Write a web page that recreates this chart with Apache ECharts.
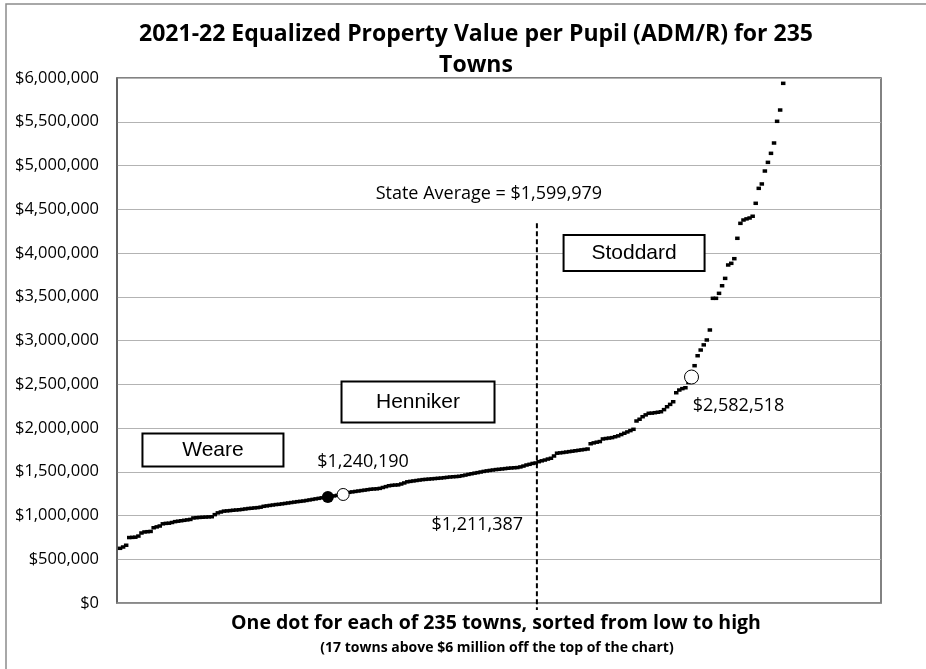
<!DOCTYPE html>
<html>
<head>
<meta charset="utf-8">
<script src="https://cdn.jsdelivr.net/npm/echarts@6/dist/echarts.min.js"></script>
<style>
  html, body { margin: 0; padding: 0; background: #fff; }
  #chart { width: 926px; height: 669px; }
</style>
</head>
<body>
<div id="chart"></div>
<script>
// values per pupil, in millions of dollars, towns sorted low -> high (218 shown, 17 off the top)
var valueMillions = [
  0.625, 0.64, 0.66, 0.748, 0.75, 0.752, 0.765, 0.80, 0.812, 0.815,
  0.818, 0.86, 0.87, 0.88, 0.905, 0.91, 0.912, 0.92, 0.93, 0.935,
  0.94, 0.945, 0.95, 0.955, 0.972, 0.975, 0.978, 0.98, 0.982, 0.984,
  0.986, 1.01, 1.03, 1.04, 1.05, 1.053, 1.056, 1.06, 1.063, 1.066,
  1.07, 1.075, 1.08, 1.083, 1.087, 1.09, 1.095, 1.105, 1.11, 1.115,
  1.12, 1.125, 1.128, 1.133, 1.138, 1.143, 1.148, 1.153, 1.158, 1.162,
  1.166, 1.172, 1.178, 1.184, 1.19, 1.196, 1.202, 1.207, 1.211387, 1.218,
  1.224, 1.23, 1.236, 1.24019, 1.25, 1.265, 1.27, 1.275, 1.28, 1.285,
  1.29, 1.295, 1.30, 1.303, 1.305, 1.31, 1.32, 1.33, 1.34, 1.345,
  1.348, 1.35, 1.36, 1.372, 1.385, 1.39, 1.395, 1.40, 1.405, 1.41,
  1.413, 1.416, 1.419, 1.422, 1.425, 1.428, 1.432, 1.436, 1.44, 1.443,
  1.445, 1.448, 1.455, 1.462, 1.47, 1.477, 1.484, 1.49, 1.497, 1.504,
  1.51, 1.515, 1.52, 1.525, 1.528, 1.532, 1.536, 1.54, 1.543, 1.546,
  1.548, 1.555, 1.565, 1.577, 1.585, 1.595, 1.60, 1.615, 1.625, 1.634,
  1.645, 1.654, 1.68, 1.712, 1.716, 1.72, 1.725, 1.73, 1.735, 1.74,
  1.745, 1.75, 1.755, 1.76, 1.82, 1.83, 1.838, 1.845, 1.875, 1.88,
  1.885, 1.89, 1.90, 1.91, 1.925, 1.94, 1.955, 1.97, 1.985, 2.08,
  2.10, 2.129, 2.15, 2.168, 2.17, 2.175, 2.18, 2.186, 2.21, 2.243,
  2.27, 2.30, 2.403, 2.434, 2.45, 2.46, 2.52, 2.582518, 2.712, 2.826,
  2.891, 2.95, 3.006, 3.12, 3.482, 3.482, 3.539, 3.626, 3.71, 3.863,
  3.882, 3.935, 4.168, 4.339, 4.377, 4.39, 4.40, 4.42, 4.568, 4.739,
  4.789, 4.937, 5.036, 5.139, 5.257, 5.505, 5.634, 5.939
];

// highlighted towns: [rank, value]
var weare = [69, 1211387];
var henniker = [74, 1240190];
var stoddard = [188, 2582518];

var stateAverage = 1599979;
var stateAverageRank = 137.4;

// text annotations placed in data coordinates: [rank, value, text]
var plainNotes = [
  [121.7, 4674000, 'State Average = $1,599,979'],
  [80.5, 1615000, '$1,240,190'],
  [117.9, 891000, '$1,211,387'],
  [203.4, 2249000, '$2,582,518']
];
// boxed town names: [rank, value, text, box width, box height]
var boxNotes = [
  [31.4, 1749000, 'Weare', 143, 35],
  [98.5, 2297000, 'Henniker', 155, 43],
  [169.2, 4000000, 'Stoddard', 143, 38]
];

var yTicks = { min: 0, max: 6000000, step: 500000 };

var towns = valueMillions.map(function (v, i) {
  return [i + 1, v * 1e6];
});

function money(v) {
  return '$' + Math.round(v).toString().replace(/\B(?=(\d{3})+(?!\d))/g, ',');
}

var chart = echarts.init(document.getElementById('chart'));

var option = {
  animation: false,
  backgroundColor: '#fff',
  title: [{
    text: '2021-22 Equalized Property Value per Pupil (ADM/R) for 235\nTowns',
    left: 471,
    top: 14,
    textAlign: 'center',
    textStyle: {
      fontFamily: 'Open Sans',
      fontWeight: 'bold',
      fontSize: 23,
      lineHeight: 31,
      color: '#000'
    }
  }, {
    text: 'One dot for each of 235 towns, sorted from low to high',
    left: 491,
    top: 608,
    textAlign: 'center',
    textStyle: { fontFamily: 'Open Sans', fontWeight: 'bold', fontSize: 19.5, color: '#000' }
  }, {
    text: '(17 towns above $6 million off the top of the chart)',
    left: 492,
    top: 636,
    textAlign: 'center',
    textStyle: { fontFamily: 'Open Sans', fontWeight: 'bold', fontSize: 14, color: '#000' }
  }],
  grid: {
    left: 117,
    right: 45,
    top: 78,
    bottom: 66,
    show: true,
    borderColor: '#595959',
    borderWidth: 1.5
  },
  xAxis: {
    type: 'value',
    min: 0,
    max: 250,
    axisLabel: { show: false },
    axisTick: { show: false },
    splitLine: { show: false },
    axisLine: { show: true, lineStyle: { color: '#8c8c8c', width: 1.5 } }
  },
  yAxis: {
    type: 'value',
    min: yTicks.min,
    max: yTicks.max,
    interval: yTicks.step,
    axisLine: { show: true, lineStyle: { color: '#595959', width: 1.5 } },
    axisTick: { show: false },
    splitLine: { lineStyle: { color: '#b3b3b3', width: 1 } },
    axisLabel: {
      margin: 18,
      fontFamily: 'Open Sans',
      fontSize: 16.5,
      color: '#000',
      formatter: money
    }
  },
  series: [{
    name: 'towns',
    type: 'scatter',
    data: towns,
    symbol: 'rect',
    symbolSize: [4.5, 3.5],
    itemStyle: { color: '#000', opacity: 1 }
  }, {
    name: 'state average',
    type: 'line',
    data: [[stateAverageRank, 4340000], [stateAverageRank, -80000]],
    clip: false,
    symbol: 'none',
    lineStyle: { color: '#000', width: 2, type: [5, 3] }
  }, {
    name: 'weare',
    type: 'scatter',
    data: [weare],
    symbol: 'circle',
    symbolSize: 12,
    itemStyle: { color: '#000', opacity: 1 }
  }, {
    name: 'henniker',
    type: 'scatter',
    data: [henniker],
    symbol: 'circle',
    symbolSize: 12,
    itemStyle: { color: '#fff', borderColor: '#000', borderWidth: 1, opacity: 1 }
  }, {
    name: 'stoddard',
    type: 'scatter',
    data: [stoddard],
    symbol: 'circle',
    symbolSize: 14,
    itemStyle: { color: '#fff', borderColor: '#000', borderWidth: 1, opacity: 1 }
  }, {
    name: 'notes',
    type: 'scatter',
    symbolSize: 0,
    silent: true,
    itemStyle: { opacity: 1 },
    data: plainNotes.map(function (n) {
      return { value: [n[0], n[1]], name: n[2] };
    }),
    label: {
      show: true,
      position: 'inside',
      formatter: '{b}',
      fontFamily: 'Open Sans',
      fontSize: 18,
      color: '#000',
      textBorderWidth: 0
    }
  }, {
    name: 'boxes',
    type: 'scatter',
    symbolSize: 0,
    silent: true,
    z: 5,
    itemStyle: { opacity: 1 },
    data: boxNotes.map(function (n) {
      return {
        value: [n[0], n[1]],
        name: n[2],
        label: { width: n[3] - 4, height: n[4] - 4, lineHeight: n[4] - 4 }
      };
    }),
    label: {
      show: true,
      position: 'inside',
      formatter: '{b}',
      align: 'center',
      verticalAlign: 'middle',
      fontFamily: 'Liberation Sans',
      fontSize: 21,
      color: '#000',
      textBorderWidth: 0,
      backgroundColor: '#fff',
      borderColor: '#000',
      borderWidth: 2
    }
  }],
  graphic: [{
    type: 'rect',
    shape: { x: 6, y: 4, width: 960, height: 700 },
    style: { fill: 'none', stroke: '#8c8c8c', lineWidth: 1.5 },
    silent: true
  }]
};

chart.setOption(option);
</script>
</body>
</html>
